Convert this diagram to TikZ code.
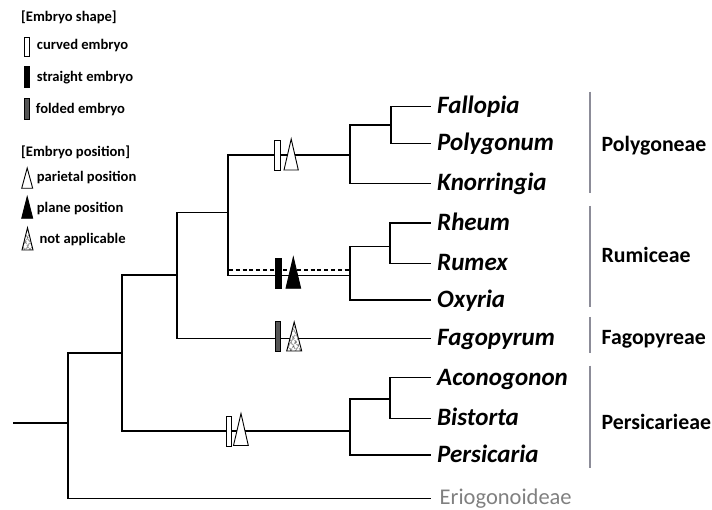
\documentclass[tikz,border=0pt]{standalone}
\usepackage{fontspec}
\setmainfont{Carlito}
\usetikzlibrary{patterns.meta}
\definecolor{cladegray}{RGB}{140,140,152}
\definecolor{eriogray}{RGB}{128,128,128}
\definecolor{folded}{RGB}{85,85,85}
\tikzset{
  branch/.style={line width=1.3pt, line cap=rect},
  dashbranch/.style={line width=2.2pt, dash pattern=on 4pt off 2.8pt},
  cladebar/.style={cladegray, line width=2.2pt},
  leaf/.style={anchor=base west, inner sep=0pt, font=\fontsize{25}{27}\selectfont\bfseries\itshape},
  clade/.style={anchor=base west, inner sep=0pt, font=\fontsize{21.8}{23}\selectfont\bfseries},
  legtext/.style={anchor=base west, inner sep=0pt, font=\fontsize{14.6}{16}\selectfont\bfseries},
  curvedsym/.style={draw=black, fill=white, line width=0.9pt},
  straightsym/.style={draw=black, fill=black, line width=0.9pt},
  foldedsym/.style={draw=black, fill=folded, line width=0.9pt},
  parietalsym/.style={draw=black, fill=white, line width=0.9pt},
  planesym/.style={draw=black, fill=black, line width=0.9pt},
  hatchA/.style={pattern={Lines[angle=60,distance=4pt,line width=0.6pt]}},
  hatchB/.style={pattern={Lines[angle=-60,distance=4pt,line width=0.6pt]}},
}
\begin{document}
\begin{tikzpicture}[x=1pt,y=-1pt]
\useasboundingbox (0,0) rectangle (712,510);

% ---------- legend ----------
\node[legtext] (lshape) at (21,21.7) {[Embryo shape]};
\path[curvedsym] (24,37.3) rectangle (29,56);
\node[legtext] (lcurved) at (36.7,50) {curved embryo};
\path[straightsym] (24,66.7) rectangle (29.5,87.7);
\node[legtext] (lstraight) at (36.7,81.7) {straight embryo};
\path[foldedsym] (24,98.7) rectangle (29.5,119.3);
\node[legtext] (lfolded) at (35.7,113.3) {folded embryo};
\node[legtext] (lpos) at (21,156.7) {[Embryo position]};
\path[parietalsym] (21.7,188.3) -- (32.7,188.3) -- (27.2,168) -- cycle;
\node[legtext] (lpar) at (36.7,181.7) {parietal position};
\path[planesym] (21.7,218.3) -- (32.7,218.3) -- (27.2,196.7) -- cycle;
\node[legtext] (lplane) at (36.7,212.3) {plane position};
\path[fill=white] (22,250) -- (33,250) -- (27.5,227.7) -- cycle;
\path[hatchA] (22,250) -- (33,250) -- (27.5,227.7) -- cycle;
\path[hatchB] (22,250) -- (33,250) -- (27.5,227.7) -- cycle;
\path[draw=black, line width=0.9pt] (22,250) -- (33,250) -- (27.5,227.7) -- cycle;
\node[legtext] (lna) at (39.3,243.3) {not applicable};

% ---------- leaves ----------
\node[leaf] (fal) at (437,113.8) {Fallopia};
\node[leaf] (pol) at (437,150.5) {Polygonum};
\node[leaf] (kno) at (437,190.5) {Knorringia};
\node[leaf] (rhe) at (437,230.3) {Rheum};
\node[leaf] (rum) at (437,270.5) {Rumex};
\node[leaf] (oxy) at (437,307.3) {Oxyria};
\node[leaf] (fag) at (437,345.5) {Fagopyrum};
\node[leaf] (aco) at (437,385) {Aconogonon};
\node[leaf] (bis) at (437,425.5) {Bistorta};
\node[leaf] (per) at (437,462.3) {Persicaria};
\node[anchor=base west, inner sep=0pt, eriogray, font=\fontsize{22.5}{24}\selectfont] (eri) at (439.5,504.3) {Eriogonoideae};

% leaf end points
\coordinate (efal) at (430,106.7);
\coordinate (epol) at (430,143.3);
\coordinate (ekno) at (430,183.3);
\coordinate (erhe) at (430,223);
\coordinate (erum) at (430,263.3);
\coordinate (eoxy) at (430,300);
\coordinate (efag) at (430,338.3);
\coordinate (eaco) at (430,377.7);
\coordinate (ebis) at (430,418.3);
\coordinate (eper) at (430,455);
\coordinate (eeri) at (430,498.7);

% ---------- internal nodes ----------
\coordinate (root) at (14,423);
\coordinate (n1) at (68,423);      % root split
\coordinate (n2) at (122,353);     % core
\coordinate (n3) at (177,275);
\coordinate (n4) at (228,212.7);
\coordinate (npo) at (350,155);    % Polygoneae
\coordinate (npo2) at (391,125);
\coordinate (nru) at (350,273);    % Rumiceae
\coordinate (nru2) at (390,246.7);
\coordinate (npe) at (350,431);    % Persicarieae
\coordinate (npe2) at (390,399);

% ---------- branches ----------
\draw[branch] (root) -- (n1);
\draw[branch] (n2 -| n1) -- (eeri -| n1);
\draw[branch] (n2 -| n1) -- (n2);
\draw[branch] (eeri -| n1) -- (eeri);
\draw[branch] (n3 -| n2) -- (npe -| n2);
\draw[branch] (n3 -| n2) -- (n3);
\draw[branch] (npe -| n2) -- (npe);
\draw[branch] (n4 -| n3) -- (efag -| n3);
\draw[branch] (n4 -| n3) -- (n4);
\draw[branch] (efag -| n3) -- (efag);
\draw[branch] (npo -| n4) -- (228,275.7);
\draw[branch] (npo -| n4) -- (npo);
\draw[branch] (228,275.7) -- (350,275.7);
\draw[dashbranch] (229,269.8) -- (350,269.8);
% Polygoneae
\draw[branch] (npo2 -| npo) -- (ekno -| npo);
\draw[branch] (npo2 -| npo) -- (npo2);
\draw[branch] (ekno -| npo) -- (ekno);
\draw[branch] (efal -| npo2) -- (epol -| npo2);
\draw[branch] (efal -| npo2) -- (efal);
\draw[branch] (epol -| npo2) -- (epol);
% Rumiceae
\draw[branch] (nru2 -| nru) -- (eoxy -| nru);
\draw[branch] (nru2 -| nru) -- (nru2);
\draw[branch] (eoxy -| nru) -- (eoxy);
\draw[branch] (erhe -| nru2) -- (erum -| nru2);
\draw[branch] (erhe -| nru2) -- (erhe);
\draw[branch] (erum -| nru2) -- (erum);
% Persicarieae
\draw[branch] (npe2 -| npe) -- (eper -| npe);
\draw[branch] (npe2 -| npe) -- (npe2);
\draw[branch] (eper -| npe) -- (eper);
\draw[branch] (eaco -| npe2) -- (ebis -| npe2);
\draw[branch] (eaco -| npe2) -- (eaco);
\draw[branch] (ebis -| npe2) -- (ebis);

% ---------- character symbols ----------
\path[curvedsym] (274.7,140) rectangle (280,170);
\path[parietalsym] (284,170) -- (298.3,170) -- (291.2,139) -- cycle;
\path[straightsym] (275,258.3) rectangle (281,288.3);
\path[planesym] (286,288.3) -- (300.7,288.3) -- (293.3,257.3) -- cycle;
\path[foldedsym] (275,321.7) rectangle (280.7,351);
\path[fill=white] (286.7,351) -- (301.7,351) -- (294.2,322) -- cycle;
\path[hatchA] (286.7,351) -- (301.7,351) -- (294.2,322) -- cycle;
\path[hatchB] (286.7,351) -- (301.7,351) -- (294.2,322) -- cycle;
\path[draw=black, line width=0.9pt] (286.7,351) -- (301.7,351) -- (294.2,322) -- cycle;
\path[curvedsym] (226,416) rectangle (231.3,446);
\path[parietalsym] (233.5,445.5) -- (248.3,445.5) -- (241,413.5) -- cycle;

% ---------- clade bars and names ----------
\coordinate (cb1t) at (590,91.7);  \coordinate (cb1b) at (590,193);
\coordinate (cb2t) at (590,206);   \coordinate (cb2b) at (590,306.7);
\coordinate (cb3t) at (590,317);   \coordinate (cb3b) at (590,353);
\coordinate (cb4t) at (590,365.7); \coordinate (cb4b) at (590,468);
\draw[cladebar] (cb1t) -- (cb1b);
\draw[cladebar] (cb2t) -- (cb2b);
\draw[cladebar] (cb3t) -- (cb3b);
\draw[cladebar] (cb4t) -- (cb4b);
\node[clade] (cpol) at (601.5,151.7) {Polygoneae};
\node[clade] (crum) at (601.5,262.5) {Rumiceae};
\node[clade] (cfag) at (601.5,344.7) {Fagopyreae};
\node[clade] (cper) at (601.5,429.5) {Persicarieae};
\end{tikzpicture}
\end{document}
